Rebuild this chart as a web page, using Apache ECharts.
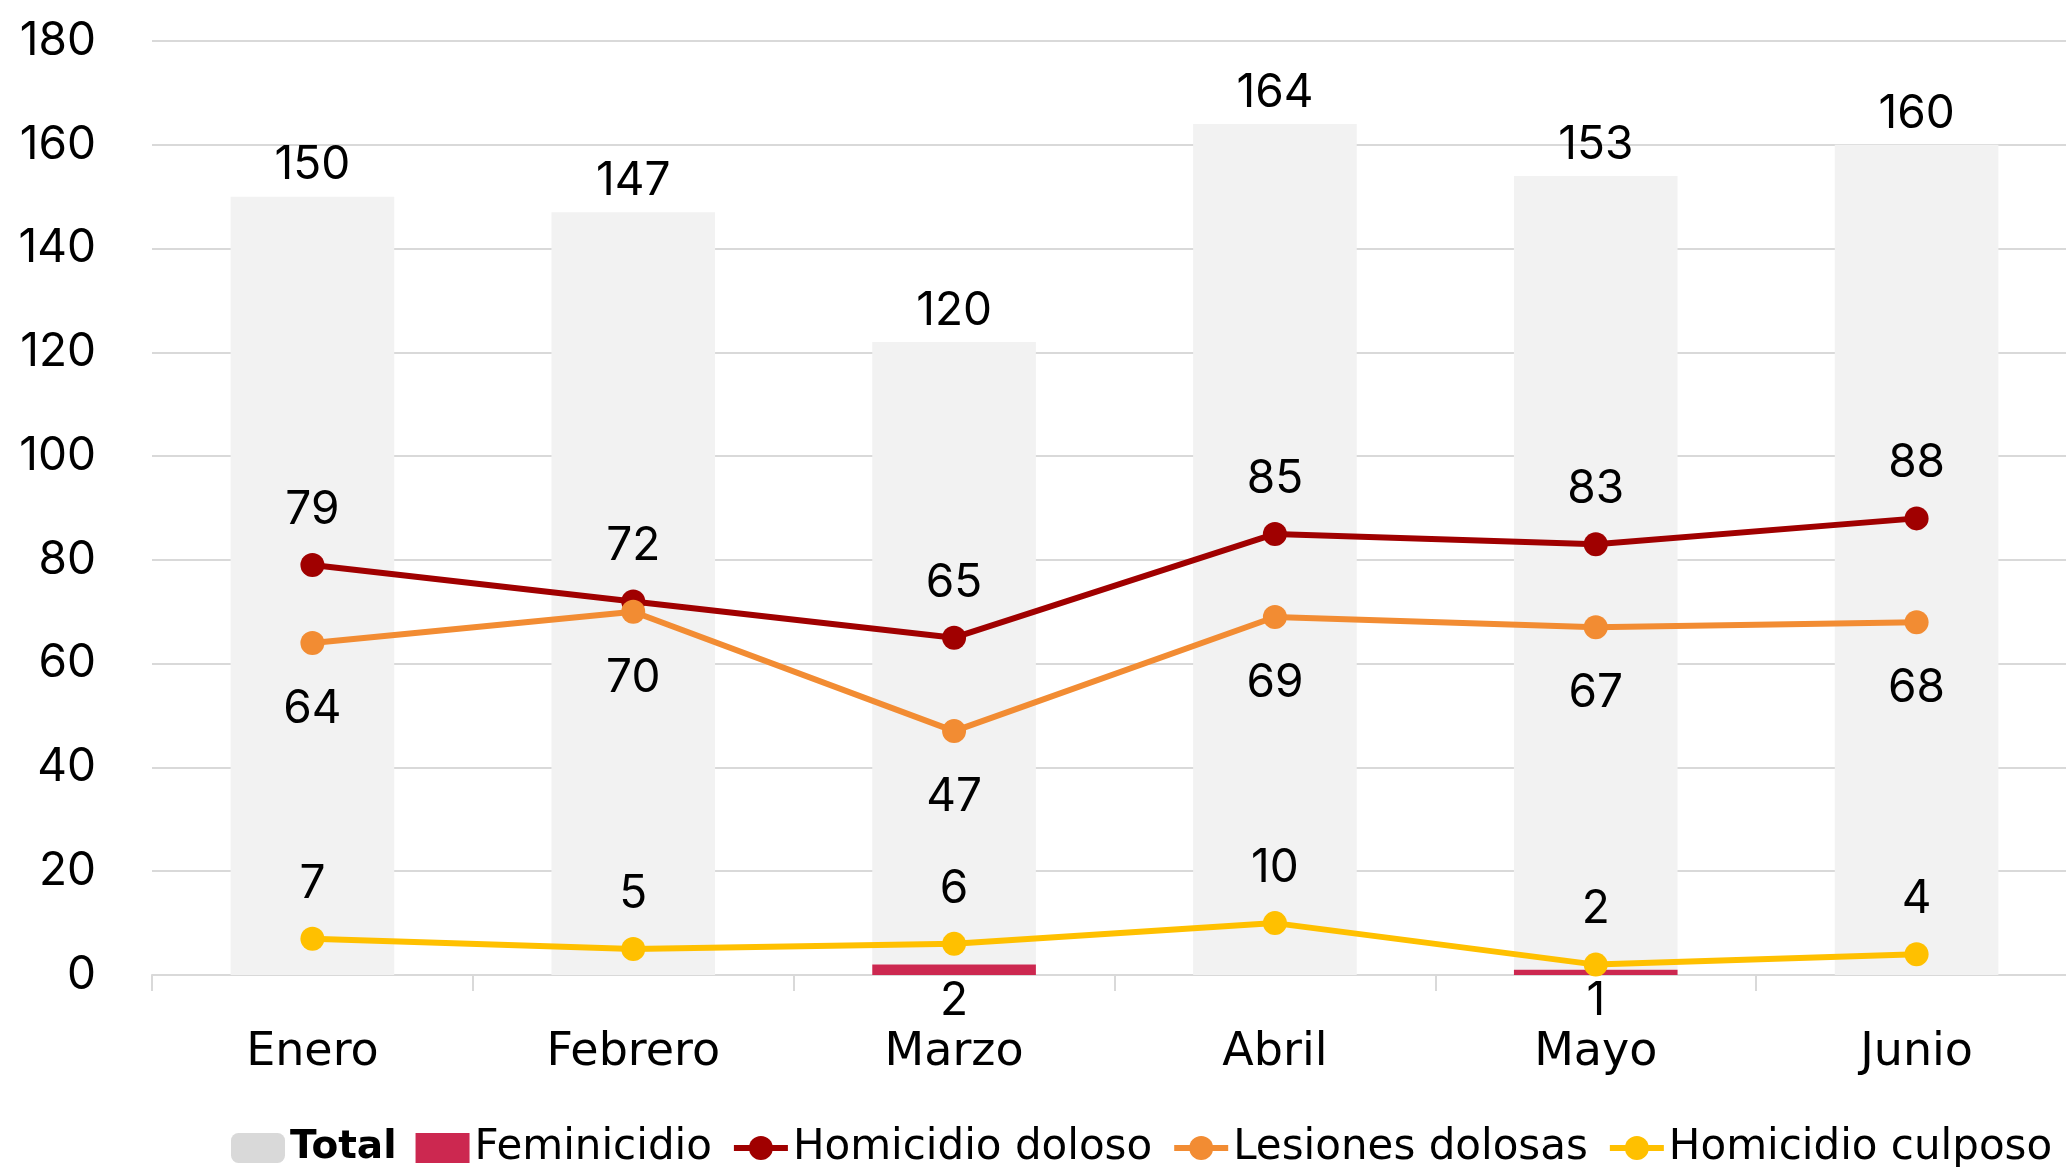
<!DOCTYPE html>
<html>
<head>
<meta charset="utf-8">
<script src="https://cdn.jsdelivr.net/npm/echarts@6/dist/echarts.min.js"></script>
<style>
  html, body { margin: 0; padding: 0; background: #fff; }
  #chart { width: 2066px; height: 1167px; }
</style>
</head>
<body>
<div id="chart"></div>
<script>
// datos del semestre
var meses = ['Enero', 'Febrero', 'Marzo', 'Abril', 'Mayo', 'Junio'];
var total = [150, 147, 120, 164, 153, 160];
var feminicidio = [0, 0, 2, 0, 1, 0];
var homicidioDoloso = [79, 72, 65, 85, 83, 88];
var lesionesDolosas = [64, 70, 47, 69, 67, 68];
var homicidioCulposo = [7, 5, 6, 10, 2, 4];

var fuenteNum = 'Inter, "Noto Sans", sans-serif';
var fuenteTxt = '"DejaVu Sans", sans-serif';
var tam = 46;

var myChart = echarts.init(document.getElementById('chart'));

function lineaSerie(nombre, datos, color, posicion, distancia) {
    return {
        name: nombre,
        type: 'line',
        data: datos,
        symbol: 'circle',
        symbolSize: 24,
        lineStyle: { color: color, width: 6 },
        itemStyle: { color: color },
        label: {
            show: true,
            position: posicion,
            distance: distancia,
            color: '#000',
            fontFamily: fuenteNum,
            fontSize: tam
        },
        z: 5
    };
}

var option = {
    animation: false,
    textStyle: { fontFamily: fuenteNum },
    //leyenda abajo
    legend: {
        left: 226,
        bottom: -7,
        itemGap: 19,
        itemWidth: 54,
        itemHeight: 30,
        lineStyle: { width: 6 },
        textStyle: { fontFamily: fuenteTxt, fontSize: 42, color: '#000' },
        data: [
            { name: 'Total', itemStyle: { color: '#d9d9d9' }, textStyle: { fontWeight: 'bold', fontSize: 39 } },
            { name: 'Feminicidio', icon: 'rect' },
            'Homicidio doloso',
            'Lesiones dolosas',
            'Homicidio culposo'
        ]
    },
    grid: {
        left: 152,
        top: 41,
        width: 1925,
        bottom: 192,
        containLabel: false,
        outerBoundsMode: 'none'
    },
    xAxis: [{
        type: 'category',
        data: meses,
        axisLine: { lineStyle: { color: '#d9d9d9', width: 2 } },
        axisTick: { show: true, length: 16, lineStyle: { color: '#d9d9d9', width: 2 } },
        axisLabel: { color: '#000', fontFamily: fuenteTxt, fontSize: tam, margin: 55 }
    }],
    yAxis: [{
        type: 'value',
        min: 0,
        max: 180,
        interval: 20,
        axisLine: { show: false },
        axisTick: { show: false },
        splitLine: { lineStyle: { color: '#d9d9d9', width: 2 } },
        axisLabel: { color: '#000', fontFamily: fuenteNum, fontSize: tam, margin: 56 }
    }],
    series: [
        {
            name: 'Feminicidio',
            type: 'bar',
            stack: 'mes',
            data: feminicidio,
            barWidth: '51%',
            itemStyle: { color: '#cc2850' },
            label: {
                show: true, position: 'bottom', distance: 3,
                color: '#000', fontFamily: fuenteNum, fontSize: tam,
                formatter: function (p) { return p.value ? p.value : ''; }
            },
            z: 2
        },
        {
            name: 'Total',
            type: 'bar',
            stack: 'mes',
            data: total,
            barWidth: '51%',
            itemStyle: { color: '#f2f2f2' },
            label: {
                show: true, position: 'top', distance: 8,
                color: '#000', fontFamily: fuenteNum, fontSize: tam
            },
            z: 1
        },
        lineaSerie('Homicidio doloso', homicidioDoloso, '#a00000', 'top', 20),
        lineaSerie('Lesiones dolosas', lesionesDolosas, '#f28c33', 'bottom', 31),
        lineaSerie('Homicidio culposo', homicidioCulposo, '#ffc000', 'top', 20)
    ]
};
myChart.setOption(option);
</script>
</body>
</html>
